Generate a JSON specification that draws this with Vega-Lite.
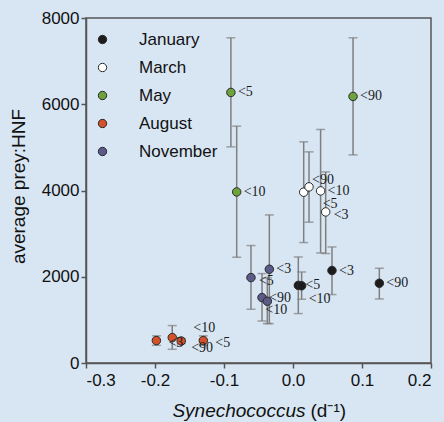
{
  "$schema": "https://vega.github.io/schema/vega-lite/v6.json",
  "width": 345,
  "height": 345,
  "autosize": {"type": "none"},
  "padding": {"left": 86, "top": 18, "right": 13, "bottom": 59},
  "background": "#d8e6f4",
  "config": {
    "view": {"stroke": "#555555", "strokeWidth": 1.5},
    "axis": {
      "domainColor": "#555555", "domainWidth": 1.5,
      "tickColor": "#555555", "tickWidth": 1.5, "tickSize": 5,
      "labelFont": "Liberation Sans", "labelFontSize": 17, "labelColor": "#111111",
      "titleFont": "Liberation Sans", "titleFontSize": 19, "titleFontWeight": "normal", "titleColor": "#111111",
      "grid": false
    },
    "legend": {
      "orient": "none", "legendX": 8, "legendY": 13, "padding": 0,
      "symbolSize": 70, "symbolType": "circle", "symbolStrokeColor": "#2a2a2a", "symbolStrokeWidth": 1,
      "labelFont": "Liberation Sans", "labelFontSize": 17, "labelColor": "#111111",
      "rowPadding": 10, "labelOffset": 28
    }
  },
  "data": {
    "values": [
      {"month": "January", "label": "<3", "x": 0.0565, "y": 2144, "lo": 1587, "hi": 2691},
      {"month": "January", "label": "<5", "x": 0.0077, "y": 1800, "lo": 1146, "hi": 2459},
      {"month": "January", "label": "<10", "x": 0.0125, "y": 1790, "lo": 1478, "hi": 2111},
      {"month": "January", "label": "<90", "x": 0.1251, "y": 1849, "lo": 1485, "hi": 2197},
      {"month": "March", "label": "<5", "x": 0.0155, "y": 3961, "lo": 2793, "hi": 5128},
      {"month": "March", "label": "<90", "x": 0.0232, "y": 4084, "lo": 3265, "hi": 4896},
      {"month": "March", "label": "<10", "x": 0.040, "y": 3991, "lo": 2552, "hi": 5415},
      {"month": "March", "label": "<3", "x": 0.0474, "y": 3503, "lo": 2538, "hi": 4431},
      {"month": "May", "label": "<5", "x": -0.090, "y": 6274, "lo": 5012, "hi": 7541},
      {"month": "May", "label": "<10", "x": -0.0816, "y": 3967, "lo": 2452, "hi": 5492},
      {"month": "May", "label": "<90", "x": 0.087, "y": 6181, "lo": 4826, "hi": 7541},
      {"month": "August", "label": "<3", "x": -0.198, "y": 520, "lo": 410, "hi": 630},
      {"month": "August", "label": "<10", "x": -0.175, "y": 589, "lo": 318, "hi": 868},
      {"month": "August", "label": "<90", "x": -0.162, "y": 510, "lo": 450, "hi": 570},
      {"month": "August", "label": "<5", "x": -0.130, "y": 520, "lo": 410, "hi": 630},
      {"month": "November", "label": "<3", "x": -0.0343, "y": 2174, "lo": 914, "hi": 3434},
      {"month": "November", "label": "<5", "x": -0.0609, "y": 1981, "lo": 1246, "hi": 2724},
      {"month": "November", "label": "<90", "x": -0.0449, "y": 1517, "lo": 974, "hi": 2074},
      {"month": "November", "label": "<10", "x": -0.0372, "y": 1431, "lo": 914, "hi": 1972}
    ]
  },
  "layer": [
    {
      "layer": [
        {
          "mark": {"type": "errorbar", "color": "#7f7f7f", "ticks": {"size": 9, "thickness": 1.5}, "rule": {"strokeWidth": 1.5}},
          "encoding": {
            "x": {"field": "x", "type": "quantitative", "title": "Synechococcus"},
            "y": {"field": "lo", "type": "quantitative", "title": "average prey:HNF"},
            "y2": {"field": "hi"}
          }
        },
        {
          "mark": {"type": "circle", "size": 72, "stroke": "#2a2a2a", "strokeWidth": 1, "opacity": 1},
          "encoding": {
            "x": {
              "field": "x", "type": "quantitative",
              "scale": {"domain": [-0.3, 0.2], "nice": false, "zero": false},
              "axis": {
                "orient": "bottom", "values": [-0.3, -0.2, -0.1, 0, 0.1, 0.2],
                "labelExpr": "datum.value == 0 ? '0.0' : toString(round(datum.value * 10) / 10)",
                "labelPadding": 4,
                "title": "Synechococcus", "titleFontStyle": "italic",
                "titleAlign": "right", "titleX": 219, "titleY": 53, "titleBaseline": "alphabetic"
              }
            },
            "y": {
              "field": "y", "type": "quantitative",
              "scale": {"domain": [0, 8000], "nice": false},
              "axis": {
                "values": [0, 2000, 4000, 6000, 8000], "format": "d", "labelPadding": 2,
                "title": "average prey:HNF", "titleAngle": -90, "titleAlign": "center",
                "titleX": -61.5, "titleY": 168, "titleBaseline": "alphabetic"
              }
            },
            "color": {
              "field": "month", "type": "nominal",
              "scale": {
                "domain": ["January", "March", "May", "August", "November"],
                "range": ["#1c1c1c", "#ffffff", "#6ea23e", "#d4522a", "#5b5a89"]
              },
              "legend": {"title": null}
            }
          }
        }
      ]
    },
    {
      "encoding": {
        "x": {
          "field": "x", "type": "quantitative",
          "axis": {
            "orient": "bottom", "labels": false, "ticks": false, "domain": false,
            "title": "(d⁻¹)", "titleAlign": "left", "titleX": 224, "titleY": 53, "titleBaseline": "alphabetic"
          }
        },
        "y": {"field": "y", "type": "quantitative", "title": "average prey:HNF"},
        "text": {"field": "label"}
      },
      "layer": [
        {
          "transform": [{"filter": "indexof(['March<5','March<90','March<3','January<10','November<10','November<5','August<10','August<90','August<3','August<5'], datum.month + datum.label) < 0"}],
          "mark": {"type": "text", "font": "Liberation Serif", "fontSize": 14, "color": "#1a1a1a", "align": "left", "baseline": "middle", "dx": 7}
        },
        {
          "transform": [{"filter": "datum.month + datum.label == 'March<5'"}],
          "mark": {"type": "text", "font": "Liberation Serif", "fontSize": 14, "color": "#1a1a1a", "align": "left", "baseline": "middle", "dx": 19, "dy": 12}
        },
        {
          "transform": [{"filter": "datum.month + datum.label == 'March<90'"}],
          "mark": {"type": "text", "font": "Liberation Serif", "fontSize": 14, "color": "#1a1a1a", "align": "left", "baseline": "middle", "dx": 3, "dy": -7}
        },
        {
          "transform": [{"filter": "datum.month + datum.label == 'March<3' || datum.month + datum.label == 'November<5'"}],
          "mark": {"type": "text", "font": "Liberation Serif", "fontSize": 14, "color": "#1a1a1a", "align": "left", "baseline": "middle", "dx": 8, "dy": 3}
        },
        {
          "transform": [{"filter": "datum.month + datum.label == 'January<10'"}],
          "mark": {"type": "text", "font": "Liberation Serif", "fontSize": 14, "color": "#1a1a1a", "align": "left", "baseline": "middle", "dx": 7, "dy": 13}
        },
        {
          "transform": [{"filter": "datum.month + datum.label == 'November<10'"}],
          "mark": {"type": "text", "font": "Liberation Serif", "fontSize": 14, "color": "#1a1a1a", "align": "left", "baseline": "middle", "dx": -2, "dy": 9}
        },
        {
          "transform": [{"filter": "datum.month + datum.label == 'August<10'"}],
          "mark": {"type": "text", "font": "Liberation Serif", "fontSize": 14, "color": "#1a1a1a", "align": "left", "baseline": "middle", "dx": 21, "dy": -10}
        },
        {
          "transform": [{"filter": "datum.month + datum.label == 'August<90'"}],
          "mark": {"type": "text", "font": "Liberation Serif", "fontSize": 14, "color": "#1a1a1a", "align": "left", "baseline": "middle", "dx": 10, "dy": 7}
        },
        {
          "transform": [{"filter": "datum.month + datum.label == 'August<3' || datum.month + datum.label == 'August<5'"}],
          "mark": {"type": "text", "font": "Liberation Serif", "fontSize": 14, "color": "#1a1a1a", "align": "left", "baseline": "middle", "dx": 12, "dy": 2}
        }
      ]
    }
  ],
  "resolve": {"axis": {"x": "independent"}}
}
